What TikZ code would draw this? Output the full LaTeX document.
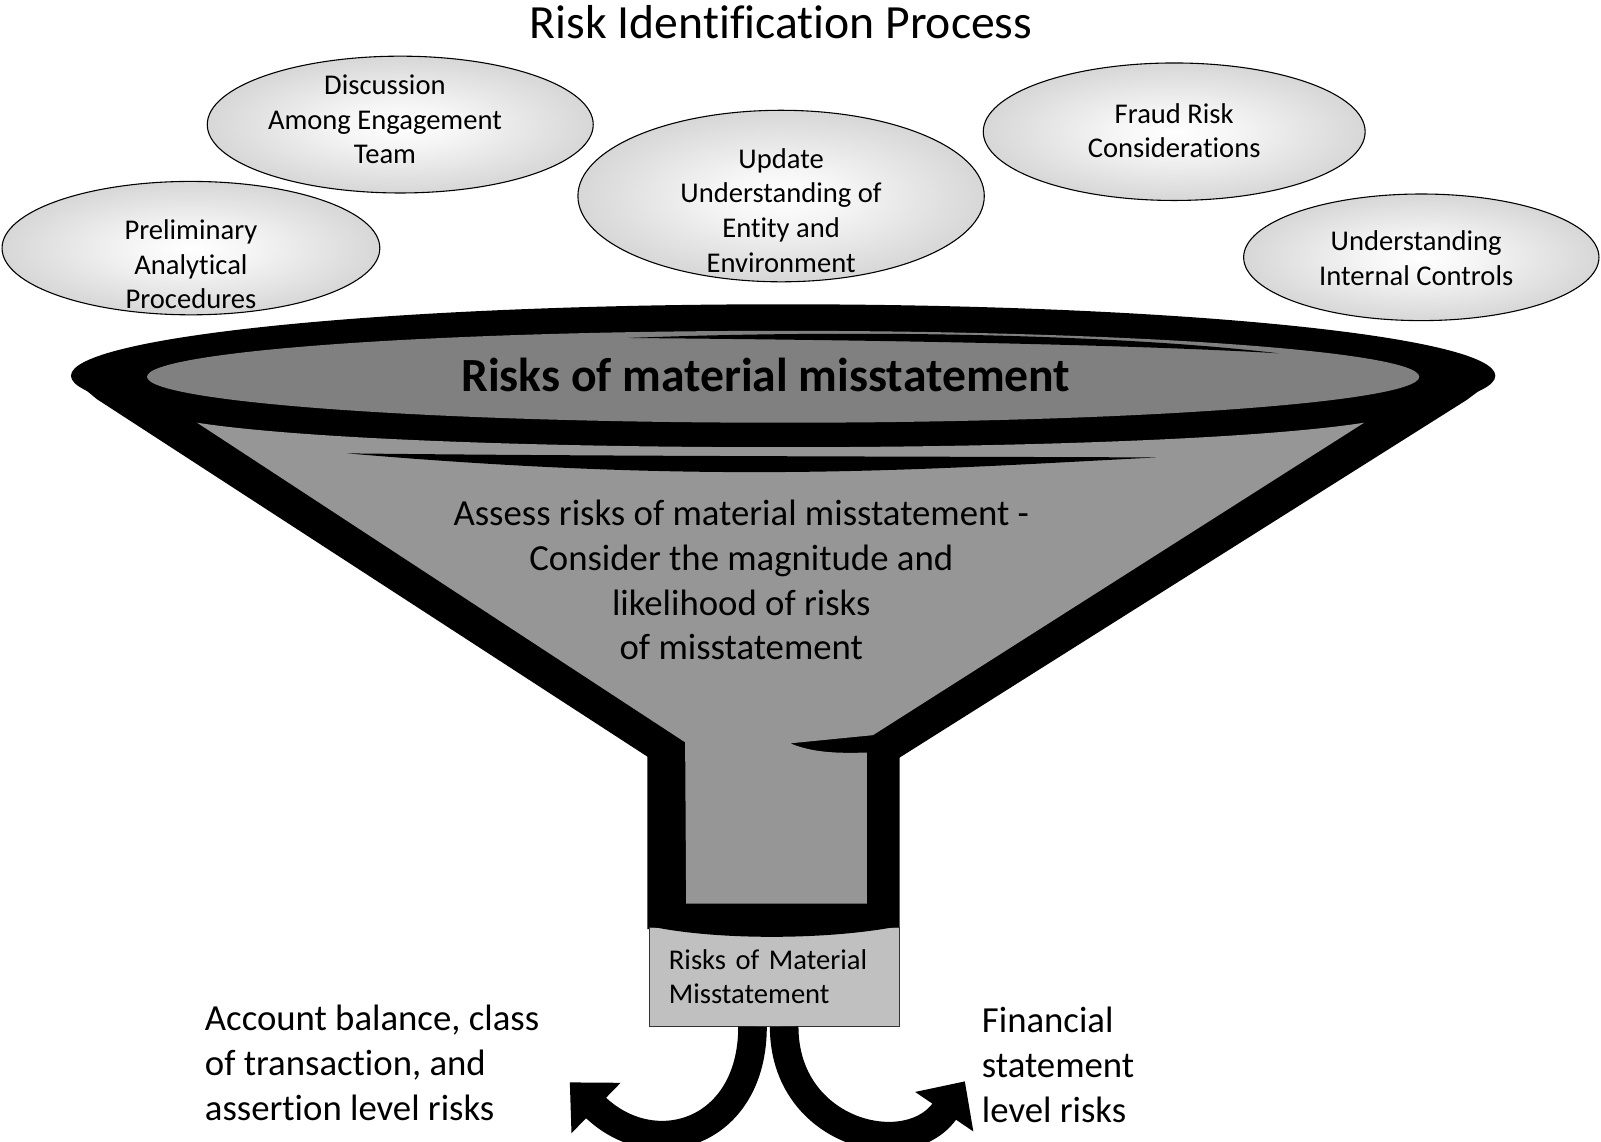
\documentclass[tikz,border=0pt]{standalone}
\usepackage{fontspec}
\setmainfont{Carlito}[Ligatures={NoCommon, NoContextual}]
\usetikzlibrary{shapes.geometric, arrows.meta, calc}
\definecolor{rimgray}{RGB}{128, 128, 128}
\definecolor{conegray}{RGB}{150, 150, 150}
\definecolor{boxgray}{RGB}{192, 192, 192}
\pgfdeclareradialshading{bubbleshade}{\pgfpoint{0bp}{0bp}}{color(0bp)=(white); color(8bp)=(white!96!black); color(50bp)=(black!33); color(70bp)=(black!38)}

\begin{document}
\begin{tikzpicture}[x=0.75pt, y=-0.75pt,
  bubble/.style={ellipse, draw=black, line width=0.8pt, shade, shading=bubbleshade, inner sep=0pt},
  bubbletext/.style={align=center, font=\fontsize{21}{25.5}\selectfont},
  bigtext/.style={font=\fontsize{27}{33}\selectfont},
  flow/.style={line width=21pt, -{Triangle[length=27pt, width=50pt]}}]
  \useasboundingbox (0,0) rectangle (1568,1118);

  % Title
  \node[font=\fontsize{35}{42}\selectfont] (title) at (765,22) {Risk Identification Process};

  % Inputs
  \node[bubble, minimum width=277.5pt, minimum height=98pt] (prelim) at (187,243) {};
  \node[bubbletext] (prelimtext) at (187,259) {Preliminary\\Analytical\\Procedures};

  \node[bubble, minimum width=283.5pt, minimum height=100.5pt] (discuss) at (392,122) {};
  \node[bubbletext] (discusstext) at (377,117) {Discussion\\Among Engagement\\Team};

  \node[bubble, minimum width=298.5pt, minimum height=126pt] (update) at (765,192) {};
  \node[bubbletext] (updatetext) at (765,206) {Update\\Understanding of\\Entity and\\Environment};

  \node[bubble, minimum width=280.5pt, minimum height=101pt] (fraud) at (1150,129) {};
  \node[bubbletext] (fraudtext) at (1150,128) {Fraud Risk\\Considerations};

  \node[bubble, minimum width=261pt, minimum height=93pt] (controls) at (1392,252) {};
  \node[bubbletext] (controlstext) at (1387,253) {Understanding\\Internal Controls};

  % Funnel
  \fill[black] (767,368) ellipse [x radius=697.5, y radius=70];
  \fill[black] (72,372) -- (1463,372) -- (1436,392) -- (881,742) -- (881,910)
    -- (634,910) -- (634,741) -- (95,391) -- cycle;
  \fill[rimgray] (767,369) ellipse [x radius=623, y radius=45];
  \fill[black] (615,331) .. controls (850,322) and (1100,328) .. (1252,346)
    .. controls (1100,337) and (850,333) .. (615,331) -- cycle;
  \fill[conegray] (193,414) .. controls (400,446) and (1130,446) .. (1336,414)
    -- (855,720) -- (774,728) .. controls (795,737) and (820,738) .. (849,737)
    -- (849,885) -- (672,885) -- (671,727) -- cycle;
  \fill[black] (340,444) .. controls (600,447) and (900,447) .. (1132,448)
    .. controls (900,460) and (700,475) .. (340,444) -- cycle;

  \node[font=\fontsize{35}{42}\selectfont\bfseries] (rimlabel) at (750,367) {Risks of material misstatement};
  \node[bigtext, align=center] (assess) at (726,568) {Assess risks of material misstatement -\\Consider the magnitude and\\likelihood of risks\\of misstatement};

  % Outcome
  \node[draw=black!80, fill=boxgray, line width=0.8pt, minimum width=183.75pt, minimum height=72.75pt,
    text width=155pt, align=left, inner xsep=14pt, font=\fontsize{21}{25.5}\selectfont] (outcome) at (758.5,956.5)
    {Risks of Material\\Misstatement};
  \fill[black] (636,907) .. controls (700,921) and (810,921) .. (881,907) -- cycle;

  \coordinate (lefttip) at (558,1060);
  \coordinate (righttip) at (945,1059);
  \draw[flow] ($(outcome.south)+(-21.5,0)$) .. controls +(0,105) and (640,1140) .. (lefttip);
  \draw[flow] ($(outcome.south)+(9.5,0)$) .. controls +(0,105) and (890,1140) .. (righttip);

  \node[bigtext, align=left, anchor=west] (assertion) at (196,1041) {Account balance, class\\of transaction, and\\assertion level risks};
  \node[bigtext, align=left, anchor=west] (statement) at (957,1043) {Financial\\statement\\level risks};
\end{tikzpicture}
\end{document}
